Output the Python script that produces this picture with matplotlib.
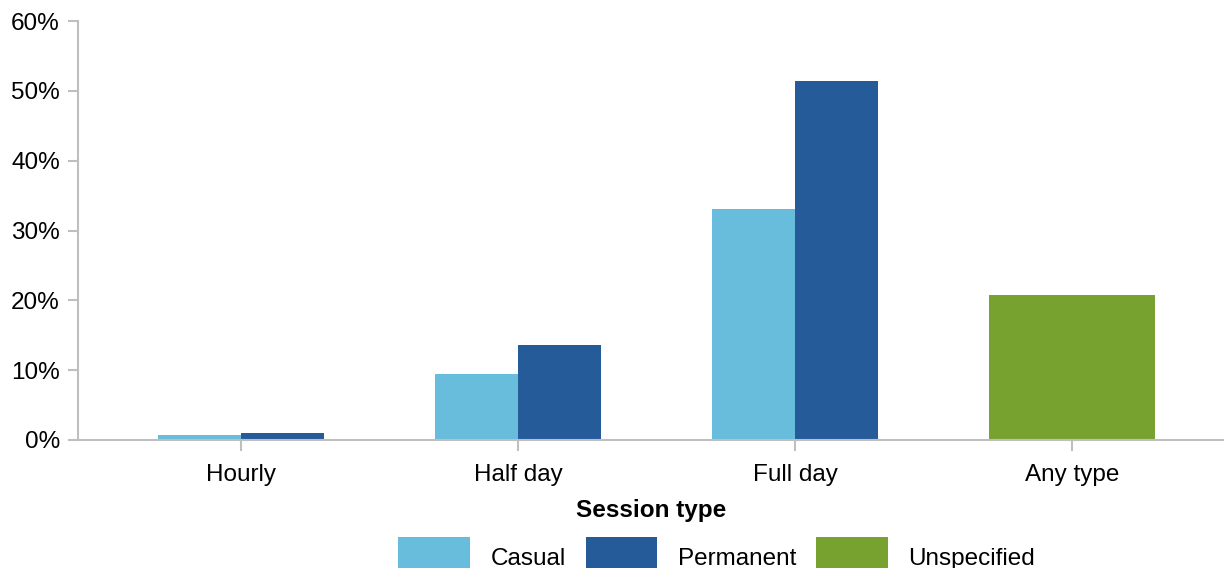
import numpy as np
import matplotlib
matplotlib.use("Agg")
import matplotlib.pyplot as plt

plt.rcParams['font.family'] = ['Liberation Sans', 'DejaVu Sans']

# 会話セッションの種類ごとの割合 (%)
categories = ['Hourly', 'Half day', 'Full day', 'Any type']
casual = [0.7, 9.5, 33.1, np.nan]
permanent = [1.0, 13.6, 51.4, np.nan]
unspecified = [np.nan, np.nan, np.nan, 20.8]
yticks = [0, 10, 20, 30, 40, 50, 60]

c_casual = '#67BDDB'
c_perm = '#265B9A'
c_unspec = '#78A22F'
grey = '#BFBFBF'
fs = 17.5

W, H = 1224, 568
fig = plt.figure(figsize=(W / 100, H / 100), dpi=100)
ax = fig.add_axes([78 / W, (H - 440) / H, (1224 - 78) / W, 419 / H])

x = np.arange(len(categories))
bw = 0.3
ax.bar(x - bw / 2, casual, bw, color=c_casual, label='Casual')
ax.bar(x + bw / 2, permanent, bw, color=c_perm, label='Permanent')
ax.bar(x, unspecified, bw * 2, color=c_unspec, label='Unspecified')

ax.set_xlim(-0.588, 3.548)
ax.set_ylim(0, 60)
ax.set_yticks(yticks)
ax.set_yticklabels([str(v) + '%' for v in yticks])
ax.set_xticks(x)
ax.set_xticklabels(categories)

for s in ['top', 'right']:
    ax.spines[s].set_visible(False)
for s in ['left', 'bottom']:
    ax.spines[s].set_color(grey)
    ax.spines[s].set_linewidth(1.5)

ax.tick_params(axis='both', colors=grey, labelcolor='black', labelsize=fs, width=1.5)
ax.tick_params(axis='y', length=7, pad=6)
ax.tick_params(axis='x', length=8, pad=9)

ax.set_xlabel('Session type', fontsize=fs, fontweight='bold', labelpad=10)

fig.legend(loc='center left', bbox_to_anchor=(398 / W, 1 - 557 / H), ncol=3,
           frameon=False, fontsize=fs, handlelength=2.95, handleheight=2.1,
           handletextpad=0.85, columnspacing=0.82, borderpad=0, borderaxespad=0)

fig.savefig('out.png', dpi=100)
